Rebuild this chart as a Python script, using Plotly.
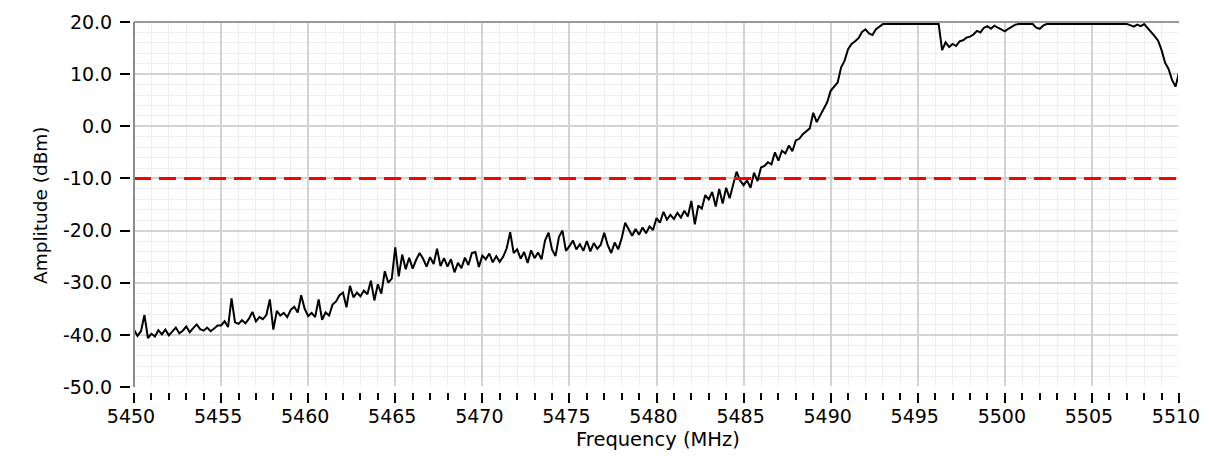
import plotly.graph_objects as go

# =====================================================
# DATA  (sweep 5450-5510 MHz, one sample every 0.2 MHz)
# =====================================================
F_START = 5450.0
F_STEP = 0.2

amplitude = [
    # 5450.0 - 5454.8
    -39.0, -40.2, -39.3, -36.2, -40.6, -39.8, -40.3, -39.1, -39.9, -39.0,
    -40.1, -39.3, -38.6, -39.7, -39.2, -38.4, -39.5, -38.7, -38.0, -38.9,
    -39.2, -38.6, -39.3, -38.8, -38.2,
    # 5455.0 - 5459.8
    -38.2, -37.4, -38.5, -33.0, -37.6, -37.9, -37.2, -37.8, -36.9, -35.6,
    -37.4, -36.6, -37.0, -36.2, -33.2, -39.0, -35.4, -36.3, -35.8, -36.6,
    -35.2, -34.6, -35.7, -32.4, -35.0,
    # 5460.0 - 5464.8
    -36.4, -35.8, -36.6, -33.2, -37.1, -35.7, -36.3, -34.2, -33.6, -32.4,
    -31.9, -34.7, -30.6, -32.8, -31.9, -32.6, -31.5, -32.2, -29.6, -33.4,
    -30.3, -32.1, -27.8, -30.0, -29.2,
    # 5465.0 - 5469.8
    -23.2, -28.8, -24.6, -27.4, -25.2, -27.3, -25.6, -24.3, -25.4, -26.9,
    -25.1, -26.4, -23.5, -26.8, -25.3, -26.9, -25.5, -28.0, -26.2, -27.2,
    -25.2, -26.6, -24.3, -24.1, -27.0,
    # 5470.0 - 5474.8
    -24.8, -25.5, -24.4, -26.1, -24.9, -26.0, -25.0, -23.4, -20.3, -24.3,
    -23.6, -25.4, -24.1, -26.2, -23.8, -25.3, -24.2, -25.5, -21.9, -20.4,
    -23.6, -24.9, -21.2, -20.0, -23.9,
    # 5475.0 - 5479.8
    -23.0, -21.9, -23.6, -22.6, -23.9, -22.0, -24.0, -22.4, -23.5, -22.7,
    -20.4, -22.8, -24.3, -22.3, -23.6, -21.5, -18.5, -19.8, -21.0, -19.7,
    -20.8, -19.4, -20.5, -19.2, -19.9,
    # 5480.0 - 5484.8
    -17.6, -18.5, -16.4, -17.9, -17.0, -17.8, -16.6, -17.5, -16.2, -17.3,
    -14.3, -18.8, -15.2, -15.8, -13.2, -14.0, -12.6, -15.4, -12.0, -14.8,
    -11.8, -13.8, -11.2, -8.7, -10.4,
    # 5485.0 - 5489.8
    -11.3, -10.4, -11.8, -8.9, -10.5, -7.9, -7.6, -6.9, -7.3, -5.0,
    -6.6, -4.7, -5.2, -3.7, -4.8, -2.7, -2.4, -1.5, -0.9, -0.4,
    2.6, 0.8, 2.1, 3.4, 4.6,
    # 5490.0 - 5494.8
    6.8, 7.5, 8.4, 11.3, 12.6, 14.8, 15.8, 16.3, 16.9, 18.1,
    18.6, 17.8, 17.5, 18.6, 19.1, 19.6, 19.6, 19.6, 19.6, 19.6,
    19.6, 19.6, 19.6, 19.6, 19.6,
    # 5495.0 - 5499.8
    19.6, 19.6, 19.6, 19.6, 19.6, 19.6, 19.6, 14.6, 16.1, 15.2,
    15.8, 15.4, 16.3, 16.5, 17.0, 17.2, 17.6, 18.3, 18.0, 18.9,
    19.2, 18.7, 19.3, 18.9, 18.5,
    # 5500.0 - 5504.8
    18.2, 18.7, 19.1, 19.5, 19.6, 19.6, 19.6, 19.6, 19.6, 18.9,
    18.7, 19.3, 19.6, 19.6, 19.6, 19.6, 19.6, 19.6, 19.6, 19.6,
    19.6, 19.6, 19.6, 19.6, 19.6,
    # 5505.0 - 5510.0
    19.6, 19.6, 19.6, 19.6, 19.6, 19.6, 19.6, 19.6, 19.6, 19.6,
    19.6, 19.4, 19.1, 19.5, 19.2, 19.6, 18.9, 18.0, 17.3, 16.4,
    14.6, 12.2, 11.0, 8.9, 7.6,
    10.3,
]
freq = [round(F_START + F_STEP * i, 1) for i in range(len(amplitude))]

limit_freq = [5450, 5510]
limit_level = [-10, -10]

x_ticks = [5450, 5455, 5460, 5465, 5470, 5475, 5480, 5485, 5490, 5495, 5500, 5505, 5510]
y_ticks = [20, 10, 0, -10, -20, -30, -40, -50]
y_ticktext = [f"{v:.1f}" for v in y_ticks]   # plain hyphen minus

# =====================================================
# FIGURE
# =====================================================
FONT = "DejaVu Sans"
OFF = 8                      # page body margin of the html file
W, H = 1209 - 2 * OFF, 459 - 2 * OFF   # keep the page free of scrollbars
L, T = 122, 14
R = W - L - 1049
B = H - T - 370
PW, PH = W - L - R, H - T - B


def px_x(page_x):
    return (page_x - OFF - L) / PW


def px_y(page_y):
    return (H - B - (page_y - OFF)) / PH


fig = go.Figure()

fig.add_trace(go.Scatter(
    x=freq, y=amplitude, mode="lines",
    line=dict(color="black", width=2),
    showlegend=False,
))

fig.add_trace(go.Scatter(
    x=limit_freq, y=limit_level, mode="lines",
    line=dict(color="#ff0000", width=3, dash="17px,8px"),
    showlegend=False,
))

grid_major = "#d2d2d2"
grid_minor = "#eeeeee"

fig.update_layout(
    width=W, height=H,
    margin=dict(l=L, r=R, t=T, b=B, autoexpand=False),
    paper_bgcolor="white",
    plot_bgcolor="white",
    font=dict(family=FONT, size=19, color="black"),
    xaxis=dict(
        domain=[4 / PW, 1],
        anchor="free", position=0,
        range=[5450, 5510],
        tickvals=x_ticks,
        ticks="outside", ticklen=10, tickwidth=2, tickcolor="black",
        ticklabelstandoff=-3,
        ticklabelshift=-3,
        automargin=False,
        showgrid=True, gridcolor=grid_major, gridwidth=2,
        minor=dict(dtick=1, ticks="outside", ticklen=7, tickwidth=2,
                   tickcolor="black", showgrid=True, gridcolor=grid_minor,
                   gridwidth=1),
        showline=False, zeroline=False,
    ),
    yaxis=dict(
        domain=[5 / PH, 1],
        anchor="free", position=0,
        range=[-50, 20],
        tickvals=y_ticks,
        ticktext=y_ticktext,
        ticks="outside", ticklen=10, tickwidth=2, tickcolor="black",
        ticklabelstandoff=4,
        automargin=False,
        showgrid=True, gridcolor=grid_major, gridwidth=2,
        minor=dict(dtick=2, ticks="", showgrid=True, gridcolor=grid_minor,
                   gridwidth=1),
        showline=False, zeroline=False,
    ),
)

# open bottom / right edges: no grid line there
fig.add_shape(type="line", xref="x domain", yref="y domain",
              x0=0, x1=1, y0=0, y1=0, line=dict(color="white", width=2))
fig.add_shape(type="line", xref="x domain", yref="y domain",
              x0=1, x1=1, y0=0, y1=0.985, line=dict(color="white", width=2))

# plot frame (left + top only)
fig.add_shape(type="line", xref="x domain", yref="y domain",
              x0=0, x1=0, y0=0, y1=1, line=dict(color="#8c8c8c", width=2))
fig.add_shape(type="line", xref="x domain", yref="y domain",
              x0=0, x1=1, y0=1, y1=1, line=dict(color="#9a9a9a", width=2))

# axis titles
fig.add_annotation(text="Amplitude (dBm)", textangle=-90,
                   x=px_x(40), y=px_y(205),
                   xanchor="center", yanchor="middle",
                   xref="paper", yref="paper", showarrow=False,
                   font=dict(family=FONT, size=18.5))
fig.add_annotation(text="Frequency (MHz)",
                   x=px_x(658), y=px_y(439),
                   xanchor="center", yanchor="middle", borderpad=0,
                   xref="paper", yref="paper", showarrow=False,
                   font=dict(family=FONT, size=19.5))

fig.write_html("out.html")
